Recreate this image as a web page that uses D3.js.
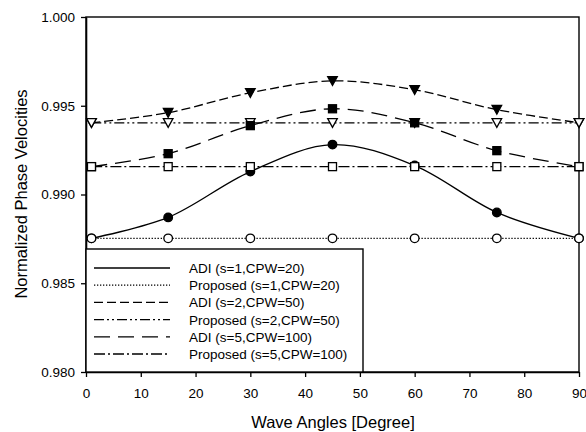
<!DOCTYPE html>
<html>
<head>
<style>
html, body { margin: 0; padding: 0; background: #fff; }
svg { display: block; font-family: "Liberation Sans", Arial, sans-serif; }
</style>
</head>
<body>
<svg width="586" height="432"></svg>
<script src="https://cdn.jsdelivr.net/npm/d3@7/dist/d3.min.js"></script>
<script>
// wave angles (degree)
var angles = [1, 15, 30, 45, 60, 75, 90];

// normalized phase velocities
var adiS1 = [0.98753, 0.98871, 0.99129, 0.99281, 0.99163, 0.98899, 0.98753];
var propS1 = [0.98753, 0.98753, 0.98753, 0.98753, 0.98753, 0.98753, 0.98753];
var adiS2 = [0.99404, 0.99461, 0.99573, 0.99640, 0.99590, 0.99478, 0.99404];
var propS2 = [0.99404, 0.99404, 0.99404, 0.99404, 0.99404, 0.99404, 0.99404];
var adiS5 = [0.99157, 0.99230, 0.99388, 0.99483, 0.99404, 0.99247, 0.99157];
var propS5 = [0.99157, 0.99157, 0.99157, 0.99157, 0.99157, 0.99157, 0.99157];

var xTicks = [0, 10, 20, 30, 40, 50, 60, 70, 80, 90];
var yTicks = [0.980, 0.985, 0.990, 0.995, 1.000];

var legendNames = [
    "ADI (s=1,CPW=20)",
    "Proposed (s=1,CPW=20)",
    "ADI (s=2,CPW=50)",
    "Proposed (s=2,CPW=50)",
    "ADI (s=5,CPW=100)",
    "Proposed (s=5,CPW=100)"
];

var svg = d3.select("svg");
var pLeft = 86, pRight = 579, pTop = 17, pBottom = 372;

var x = d3.scaleLinear().domain([0, 90]).range([pLeft, pRight]);
var y = d3.scaleLinear().domain([0.980, 1.000]).range([pBottom, pTop]);

// series: values, dash pattern, marker
var series = [
    {vals: adiS1, dash: null, mark: "circle", fill: "#000"},
    {vals: propS1, dash: "1.3,1.7", mark: "circle", fill: "#fff"},
    {vals: adiS2, dash: "9,4", mark: "tri", fill: "#000"},
    {vals: propS2, dash: "10,3,2,3,2,3", mark: "tri", fill: "#fff"},
    {vals: adiS5, dash: "16,8", mark: "square", fill: "#000"},
    {vals: propS5, dash: "11,3,2,3", mark: "square", fill: "#fff"}
];

// frame
svg.append("rect")
    .attr("x", pLeft).attr("y", pTop)
    .attr("width", pRight - pLeft).attr("height", pBottom - pTop)
    .attr("fill", "none").attr("stroke", "#000").attr("stroke-width", 1.4);

// axes
var xAxis = svg.append("g")
    .attr("transform", "translate(0," + pBottom + ")")
    .call(d3.axisBottom(x).tickValues(xTicks).tickSize(5).tickSizeOuter(0));
var yAxis = svg.append("g")
    .attr("transform", "translate(" + pLeft + ",0)")
    .call(d3.axisLeft(y).tickValues(yTicks).tickFormat(d3.format(".3f")).tickSize(5).tickSizeOuter(0));

[xAxis, yAxis].forEach(function(g){
    g.select(".domain").attr("stroke", "#000").attr("stroke-width", 1.6);
    g.selectAll(".tick line").attr("stroke", "#000").attr("stroke-width", 1.3);
    g.selectAll("text").attr("fill", "#000").style("font-size", "13.5px")
        .style("font-family", "'Liberation Sans', Arial, sans-serif");
});
xAxis.selectAll("text").attr("y", 16);
yAxis.selectAll("text").attr("x", -11);

// axis titles
svg.append("text")
    .attr("x", 333).attr("y", 428)
    .attr("text-anchor", "middle")
    .style("font-size", "16.5px")
    .text("Wave Angles [Degree]");
svg.append("text")
    .attr("transform", "translate(27,194) rotate(-90)")
    .attr("text-anchor", "middle")
    .style("font-size", "16.5px")
    .text("Normalized Phase Velocities");

var line = d3.line()
    .x(function(d, i){ return x(angles[i]); })
    .y(function(d){ return y(d); })
    .curve(d3.curveCatmullRom.alpha(0.5));

function drawMarker(g, m, cx, cy, fill) {
    if (m === "circle") {
        g.append("circle").attr("cx", cx).attr("cy", cy).attr("r", 4.3)
            .attr("fill", fill).attr("stroke", "#000").attr("stroke-width", 1.3);
    } else if (m === "square") {
        g.append("rect").attr("x", cx - 4).attr("y", cy - 4)
            .attr("width", 8).attr("height", 8)
            .attr("fill", fill).attr("stroke", "#000").attr("stroke-width", 1.3);
    } else {
        g.append("path")
            .attr("d", "M" + (cx - 4.8) + "," + (cy - 4.2) + "L" + (cx + 4.8) + "," + (cy - 4.2) + "L" + cx + "," + (cy + 4.6) + "Z")
            .attr("fill", fill).attr("stroke", "#000").attr("stroke-width", 1.3);
    }
}

series.forEach(function(s){
    svg.append("path")
        .attr("d", line(s.vals))
        .attr("fill", "none")
        .attr("stroke", "#000")
        .attr("stroke-width", 1.3)
        .attr("stroke-dasharray", s.dash);
});
series.forEach(function(s){
    var g = svg.append("g");
    s.vals.forEach(function(v, i){
        drawMarker(g, s.mark, x(angles[i]), y(v), s.fill);
    });
});

// legend
var lg = svg.append("g");
lg.append("rect")
    .attr("x", pLeft).attr("y", 249)
    .attr("width", 363 - pLeft).attr("height", pBottom - 249)
    .attr("fill", "#fff").attr("stroke", "#000").attr("stroke-width", 1.4);
legendNames.forEach(function(name, i){
    var ly = 268 + i * 17.2;
    lg.append("line")
        .attr("x1", 94).attr("x2", 170).attr("y1", ly).attr("y2", ly)
        .attr("stroke", "#000").attr("stroke-width", 1.3)
        .attr("stroke-dasharray", series[i].dash);
    lg.append("text")
        .attr("x", 189).attr("y", ly + 5)
        .style("font-size", "13.5px")
        .text(name);
});
</script>
</body>
</html>
